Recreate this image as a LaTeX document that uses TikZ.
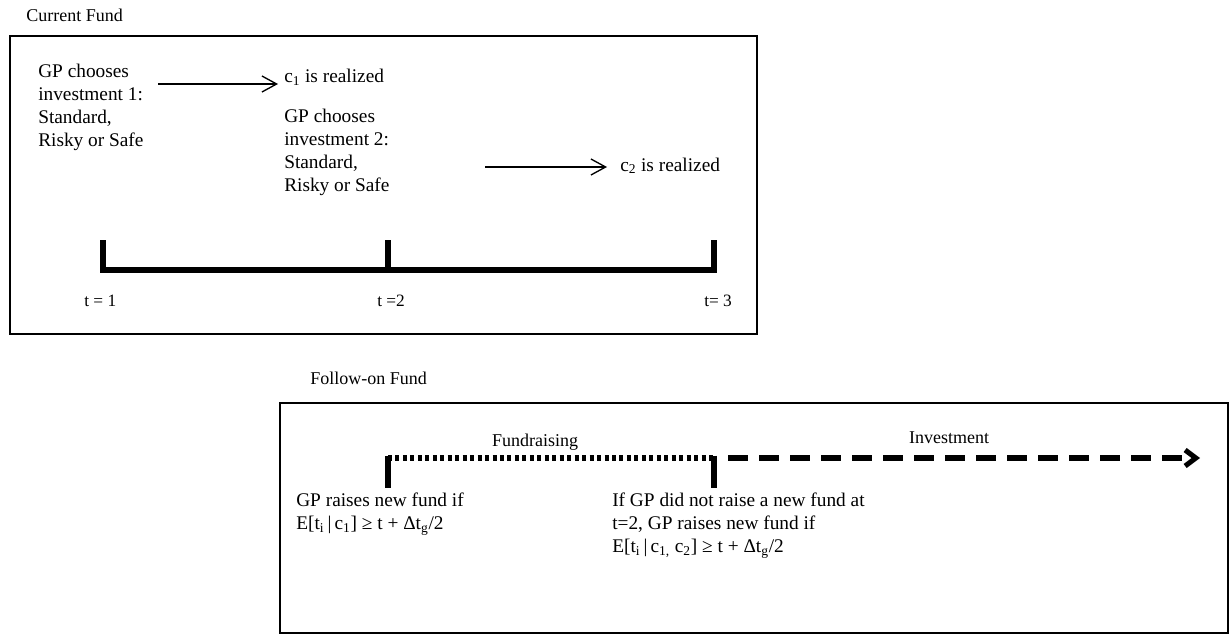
\documentclass[tikz,border=0pt]{standalone}
\usepackage{fontspec}
\setmainfont{Liberation Serif}
\usetikzlibrary{arrows.meta,positioning}

\begin{document}
\begin{tikzpicture}[
      x=0.75pt, y=-0.75pt, line join=miter,
      frame/.style={draw=black, line width=1.5pt},
      body/.style={font=\fontsize{14.5}{17.25}\selectfont, align=left,
        inner sep=0pt},
      tag/.style={font=\fontsize{13.5}{16}\selectfont, inner sep=0pt},
      tlabel/.style={font=\fontsize{13}{15}\selectfont, inner sep=0pt},
      flow/.style={-{Straight Barb[length=11pt,width=12pt]}, line width=1pt},
      axis/.style={line width=3.8pt, line cap=butt}
    ]
    \useasboundingbox (0,0) rectangle (1230,635);

    % ------------------ Layout ------------------
    \def\tOne{103}
    \def\tTwo{388}
    \def\tThree{714}
    \def\axisY{270}
    \def\tickTop{240}
    \def\fundY{458}
    \def\fundTick{488}

    % ------------------ Current fund ------------------
    \draw[frame] (10,36) rectangle (757,334);
    \node[tag, anchor=west] (curtag) at (26,15) {Current Fund};

    \node[body, anchor=north west] (choose1) at (38,64)
    {GP chooses\\investment 1:\\Standard,\\Risky or Safe};
    \node[body, anchor=base west] (real1) at (284,83)
    {c\textsubscript{1} is realized};
    \node[body, anchor=north west] (choose2) at (284,109)
    {GP chooses\\investment 2:\\Standard,\\Risky or Safe};
    \node[body, anchor=base west] (real2) at (620,171)
    {c\textsubscript{2} is realized};

    \coordinate (a1s) at (158,84);
    \coordinate (a1e) at (278,84);
    \coordinate (a2s) at (485,167);
    \coordinate (a2e) at (607,167);
    \draw[flow] (a1s) -- (a1e);
    \draw[flow] (a2s) -- (a2e);

    % ------------------ Time line ------------------
    \coordinate (t1) at (\tOne,\axisY);
    \coordinate (t2) at (\tTwo,\axisY);
    \coordinate (t3) at (\tThree,\axisY);
    \draw[axis] (\tOne,\tickTop) -- (t1) -- (t3) -- (\tThree,\tickTop);
    \draw[axis] (\tTwo,\tickTop) -- (t2);

    \node[tlabel, anchor=west] (lab1) at (84,301) {t = 1};
    \node[tlabel, anchor=west] (lab2) at (377,301) {t =2};
    \node[tlabel, anchor=west] (lab3) at (704,301) {t= 3};

    % ------------------ Follow-on fund ------------------
    \draw[frame] (280,403) rectangle (1228,633);
    \node[tag, anchor=west] (followtag) at (310,378) {Follow-on Fund};

    \coordinate (f1) at (\tTwo,\fundY);
    \coordinate (f2) at (\tThree,\fundY);
    \coordinate (fend) at (1200,\fundY);
    \draw[line width=3.8pt, dash pattern=on 3pt off 2.6pt] (f1) -- (f2);
    \draw[line width=3.8pt, dash pattern=on 15pt off 8.25pt,
      -{Straight Barb[length=8pt,width=12pt]}] (728,\fundY) -- (fend);
    \draw[axis] (\tTwo,\fundY-2.5) -- (\tTwo,\fundTick);
    \draw[axis] (\tThree,\fundY-2.5) -- (\tThree,\fundTick);

    \node[tag, anchor=base] (fundr) at (535,446) {Fundraising};
    \node[tag, anchor=base] (invest) at (949,443) {Investment};

    \node[body, anchor=north west] (raise1) at (296,493)
    {GP raises new fund if\\
      E[t\textsubscript{i}\,|\,c\textsubscript{1}] ≥ t + Δt\textsubscript{g}/2};
    \node[body, anchor=north west] (raise2) at (612,493)
    {If GP did not raise a new fund at\\t=2, GP raises new fund if\\
      E[t\textsubscript{i}\,|\,c\textsubscript{1,} c\textsubscript{2}] ≥ t +
      Δt\textsubscript{g}/2};

  \end{tikzpicture}
\end{document}
